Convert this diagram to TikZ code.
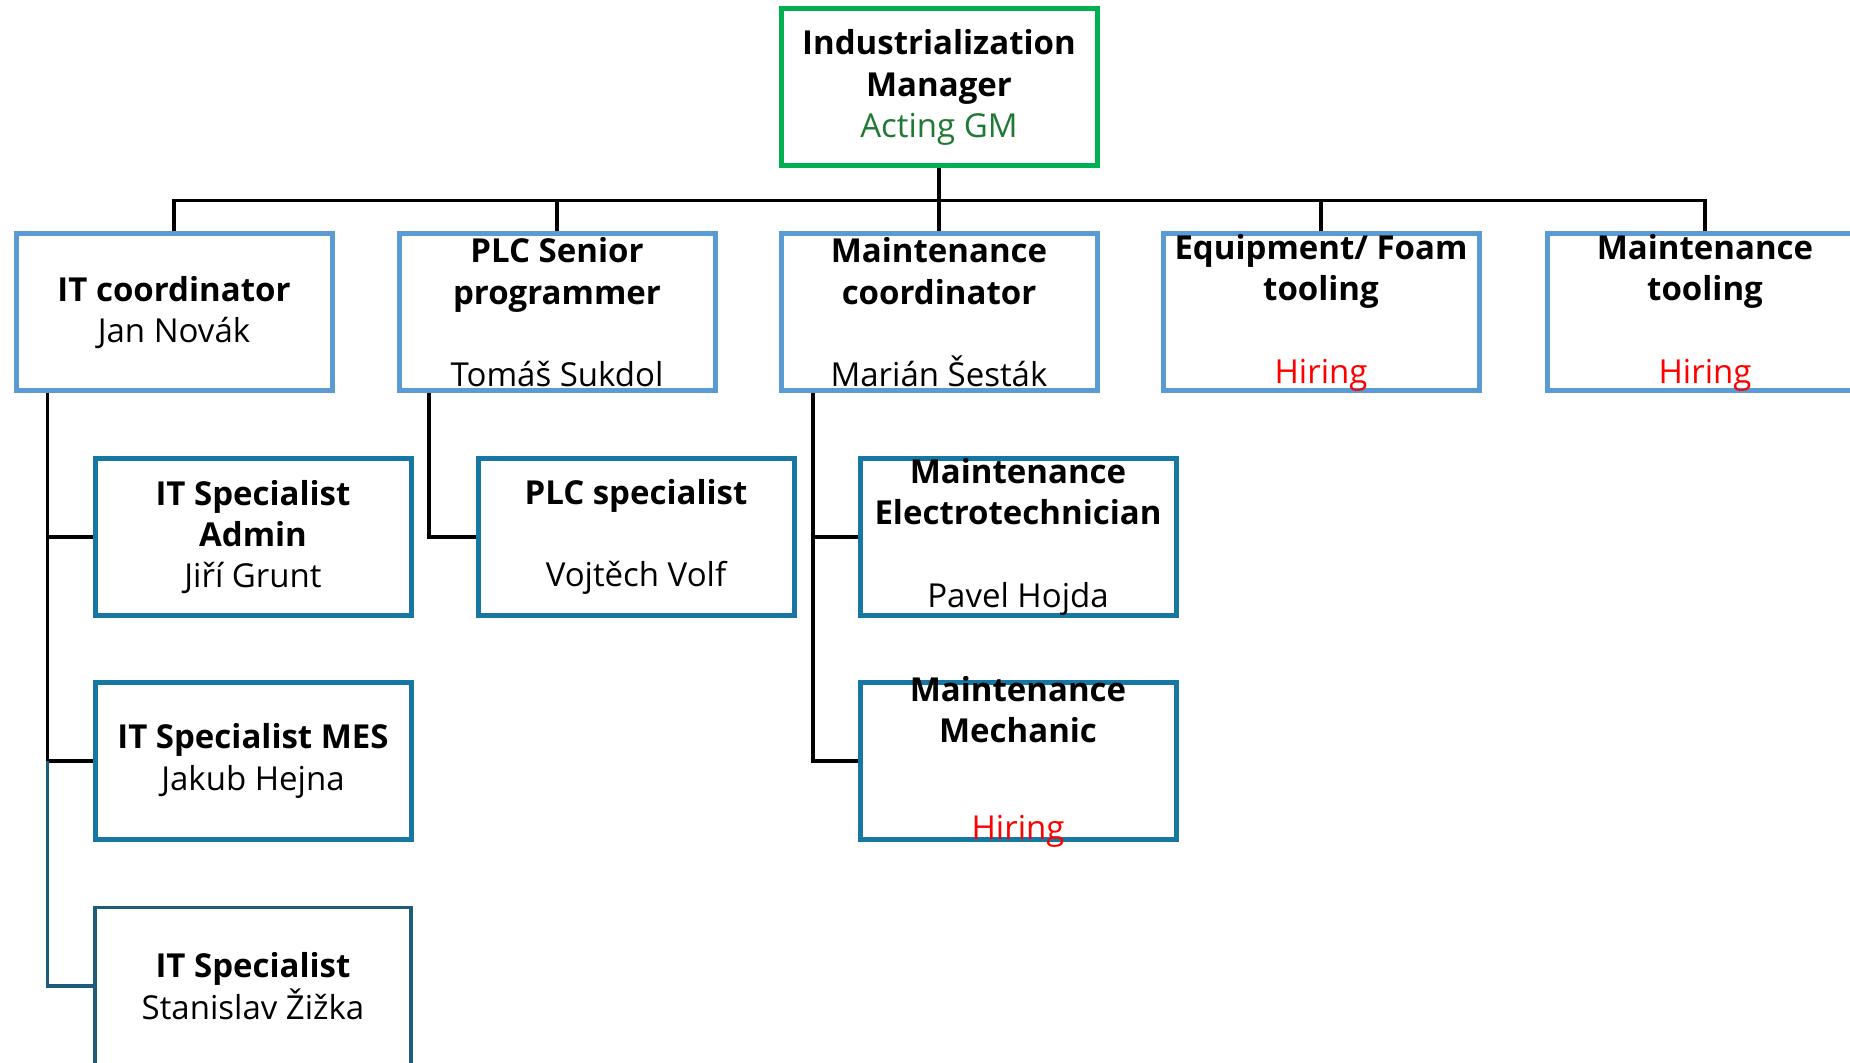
\documentclass[tikz,border=0pt]{standalone}
\usepackage{fontspec}
\setmainfont{Open Sans}
\definecolor{topgreen}{HTML}{00B050}
\definecolor{actgreen}{HTML}{1E7A33}
\definecolor{lblue}{HTML}{5B9BD5}
\definecolor{mblue}{HTML}{1577A2}
\definecolor{dblue}{HTML}{1F5C7A}
\definecolor{hirered}{HTML}{FF0000}
\begin{document}
\begin{tikzpicture}[x=0.5pt,y=-0.5pt,
  txt/.style={inner sep=0pt, align=center, font=\fontsize{16.5}{20.65}\selectfont},
  box/.style={txt, draw, fill=white, line width=2.5pt, minimum width=158pt, minimum height=78.5pt},
  topbox/.style={box, draw=topgreen},
  lvone/.style={box, draw=lblue},
  lvtwo/.style={box, draw=mblue},
  lvthree/.style={box, draw=dblue, line width=1.8pt},
  conn/.style={draw=black, line width=1.7pt},
  connb/.style={draw=dblue, line width=1.7pt}]
\clip (0,0) rectangle (1850,1063);
\useasboundingbox (0,0) rectangle (1850,1063);

\coordinate (bus) at (939,200.5);
\coordinate (itx) at (47.5,0);
\coordinate (plcx) at (429,0);
\coordinate (mcx) at (813,0);

\node[topbox] (top) at (939,87.5) {\textbf{Industrialization}\\\textbf{Manager}\\\textcolor{actgreen}{Acting GM}};

\node[lvone] (itc) at (174,312.5) {\textbf{IT coordinator}\\Jan Novák};
\node[lvone] (plcs) at (557,312.5) {\textbf{PLC Senior}\\\textbf{programmer}\\[20.65pt]Tomáš Sukdol};
\node[lvone] (mc) at (939,312.5) {\textbf{Maintenance}\\\textbf{coordinator}\\[20.65pt]Marián Šesták};
\node[lvone] (eq) at (1321,312.5) {\textbf{Equipment/ Foam}\\\textbf{tooling}\\[20.65pt]\textcolor{hirered}{Hiring}};
\node[lvone] (mt) at (1705,312.5) {\textbf{Maintenance}\\\textbf{tooling}\\[20.65pt]\textcolor{hirered}{Hiring}};

\node[lvtwo] (itadm) at (253,537) {\textbf{IT Specialist}\\\textbf{Admin}\\Jiří Grunt};
\node[lvtwo] (plc) at (636,537) {\textbf{PLC specialist}\\[20.65pt]Vojtěch Volf};
\node[lvtwo] (mel) at (1018,537) {\textbf{Maintenance}\\\textbf{Electrotechnician}\\[20.65pt]Pavel Hojda};

\node[lvtwo] (itmes) at (253,761) {\textbf{IT Specialist MES}\\Jakub Hejna};
\node[lvtwo] (mme) at (1018,761) {};
\node[txt] (mmetext) at ([yshift=-0.5pt]mme.center) {\textbf{Maintenance}\\\textbf{Mechanic}\\[27.7pt]\textcolor{hirered}{Hiring}};

\node[lvthree] (itsz) at (253,986) {\textbf{IT Specialist}\\Stanislav Žižka};

\draw[conn] (top.south) -- (bus);
\draw[conn] (itc.north) -- (itc.north |- bus) -- (mt.north |- bus) -- (mt.north);
\draw[conn] (plcs.north) -- (plcs.north |- bus);
\draw[conn] (mc.north) -- (mc.north |- bus);
\draw[conn] (eq.north) -- (eq.north |- bus);

\draw[conn] (itx |- itc.south) |- (itadm.west);
\draw[conn] (itx |- itadm.west) |- (itmes.west);
\draw[connb] (itx |- itmes.west) |- (itsz.west);

\draw[conn] (plcx |- plcs.south) |- (plc.west);

\draw[conn] (mcx |- mc.south) |- (mel.west);
\draw[conn] (mcx |- mel.west) |- (mme.west);
\end{tikzpicture}
\end{document}
